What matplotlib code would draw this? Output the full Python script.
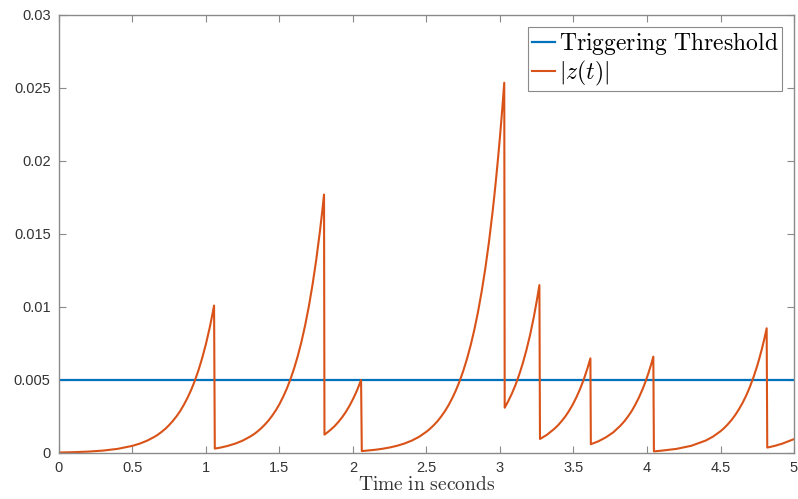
import numpy as np
import matplotlib.pyplot as plt

plt.rcParams['mathtext.fontset'] = 'cm'

# threshold level
threshold = 0.005

# |z(t)|, one list per segment between resets
seg_t = [
    [0.0, 0.1, 0.2, 0.3, 0.4, 0.5, 0.55, 0.6, 0.65, 0.675, 0.7, 0.725, 0.75, 0.775, 0.8, 0.825,
     0.85, 0.875, 0.9, 0.925, 0.95, 0.975, 1.0, 1.025, 1.04, 1.055],
    [1.06, 1.1, 1.15, 1.2, 1.25, 1.3, 1.325, 1.35, 1.375, 1.4, 1.425, 1.45, 1.475, 1.5, 1.525,
     1.55, 1.575, 1.6, 1.625, 1.65, 1.675, 1.7, 1.725, 1.75, 1.775, 1.79, 1.803],
    [1.806, 1.825, 1.85, 1.875, 1.9, 1.925, 1.95, 1.975, 2.0, 2.015, 2.03, 2.045, 2.055],
    [2.06, 2.1, 2.15, 2.2, 2.25, 2.3, 2.35, 2.4, 2.45, 2.5, 2.525, 2.55, 2.575, 2.6, 2.625, 2.65,
     2.675, 2.7, 2.725, 2.75, 2.775, 2.8, 2.825, 2.85, 2.875, 2.9, 2.925, 2.9375, 2.95, 2.9625,
     2.975, 2.9875, 3.0, 3.015, 3.029],
    [3.032, 3.055, 3.08, 3.105, 3.13, 3.155, 3.18, 3.205, 3.23, 3.25, 3.268],
    [3.272, 3.32, 3.37, 3.395, 3.42, 3.445, 3.47, 3.495, 3.52, 3.545, 3.57, 3.595, 3.615],
    [3.618, 3.67, 3.72, 3.77, 3.82, 3.845, 3.87, 3.895, 3.92, 3.945, 3.97, 3.99, 4.01, 4.028, 4.043],
    [4.047, 4.1, 4.2, 4.3, 4.4, 4.45, 4.5, 4.525, 4.55, 4.575, 4.6, 4.625, 4.65, 4.675, 4.7,
     4.725, 4.75, 4.765, 4.78, 4.798, 4.814],
    [4.818, 4.87, 4.92, 4.97, 5.0],
]
seg_z = [
    [0.000032, 0.000056, 0.000096, 0.000165, 0.000284, 0.000491, 0.000644, 0.000846, 0.00111,
     0.00127, 0.00146, 0.00167, 0.00192, 0.0022, 0.00252, 0.00288, 0.00331, 0.00379, 0.00434,
     0.00497, 0.0057, 0.00653, 0.00748, 0.00857, 0.00931, 0.0101],
    [0.0003, 0.000373, 0.000491, 0.000646, 0.00085, 0.00112, 0.00128, 0.00147, 0.00169, 0.00194,
     0.00222, 0.00255, 0.00292, 0.00335, 0.00385, 0.00441, 0.00506, 0.00581, 0.00666, 0.00764,
     0.00877, 0.01006, 0.01154, 0.01323, 0.01518, 0.01648, 0.0177],
    [0.00126, 0.0014, 0.00161, 0.00184, 0.00212, 0.00243, 0.00279, 0.00321, 0.00369, 0.00401,
     0.00435, 0.00473, 0.005],
    [0.00013, 0.000168, 0.00022, 0.000288, 0.000378, 0.000495, 0.000648, 0.000849, 0.00111,
     0.00146, 0.00167, 0.00191, 0.00218, 0.0025, 0.00286, 0.00327, 0.00375, 0.00429, 0.00491,
     0.00562, 0.00643, 0.00736, 0.00842, 0.00964, 0.01104, 0.01263, 0.01446, 0.01548, 0.01655,
     0.01771, 0.01895, 0.02027, 0.02168, 0.02351, 0.02536],
    [0.0031, 0.00353, 0.00405, 0.00465, 0.00535, 0.00614, 0.00706, 0.0081, 0.00931, 0.01041, 0.0115],
    [0.00096, 0.00125, 0.00166, 0.0019, 0.00219, 0.00251, 0.00289, 0.00332, 0.00382, 0.00439,
     0.00504, 0.0058, 0.00648],
    [0.0006, 0.000805, 0.00107, 0.00141, 0.00188, 0.00216, 0.00249, 0.00286, 0.0033, 0.0038,
     0.00437, 0.00489, 0.00548, 0.00606, 0.0066],
    [0.00011, 0.000161, 0.000281, 0.00049, 0.000854, 0.00113, 0.00149, 0.00171, 0.00197, 0.00226,
     0.0026, 0.00299, 0.00343, 0.00394, 0.00453, 0.00521, 0.00598, 0.00651, 0.00707, 0.00781,
     0.00854],
    [0.00037, 0.00049, 0.00064, 0.00083, 0.00095],
]

xticks = [0, 0.5, 1, 1.5, 2, 2.5, 3, 3.5, 4, 4.5, 5]
xtick_labels = ['0', '0.5', '1', '1.5', '2', '2.5', '3', '3.5', '4', '4.5', '5']
yticks = [0, 0.005, 0.01, 0.015, 0.02, 0.025, 0.03]
ytick_labels = ['0', '0.005', '0.01', '0.015', '0.02', '0.025', '0.03']

t = np.concatenate([np.array(s) for s in seg_t])
z = np.concatenate([np.array(s) for s in seg_z])

fig = plt.figure(figsize=(7.98, 4.99), dpi=100)
ax = fig.add_axes([0.0739, 0.0922, 0.9211, 0.8778])

ax.plot([0, 5], [threshold, threshold], color='#0072BD', lw=1.6, label='Triggering Threshold')
ax.plot(t, z, color='#D95319', lw=1.5, solid_joinstyle='round', label=r'$|z(t)|$')

ax.set_xlim(0, 5)
ax.set_ylim(0, 0.03)
ax.set_xticks(xticks)
ax.set_xticklabels(xtick_labels)
ax.set_yticks(yticks)
ax.set_yticklabels(ytick_labels)

grey = '#8a8a8a'
for sp in ax.spines.values():
    sp.set_color(grey)
    sp.set_linewidth(1.0)
ax.tick_params(direction='in', length=5, width=0.8, color=grey, labelcolor='#333333',
               labelsize=10.5, top=True, right=True, pad=6)
for lab in ax.get_xticklabels() + ax.get_yticklabels():
    lab.set_fontfamily('Liberation Sans')

ax.set_xlabel(r'$\mathrm{Time\ in\ seconds}$', fontsize=14, color='#333333', labelpad=0)

leg = ax.legend(loc='upper right', fontsize=17, handlelength=1.0, handletextpad=0.15,
                borderaxespad=0.5, borderpad=0.15, labelspacing=0.05, fancybox=False,
                framealpha=1)
leg.get_frame().set_edgecolor(grey)
leg.get_frame().set_linewidth(0.8)
for txt in leg.get_texts():
    if txt.get_text() == 'Triggering Threshold':
        txt.set_text(r'$\mathrm{Triggering\ Threshold}$')

fig.savefig('out.png', dpi=100)
